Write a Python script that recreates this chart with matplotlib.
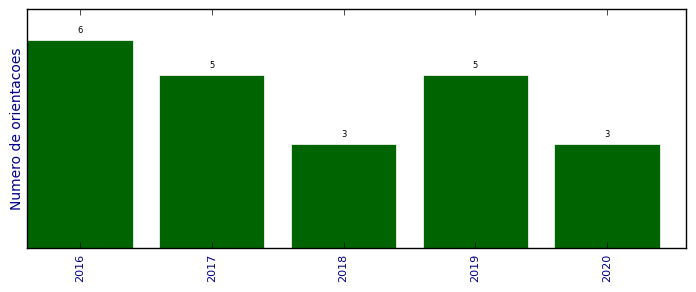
import matplotlib
matplotlib.use("Agg")
import matplotlib.pyplot as plt

anos = ["2016", "2017", "2018", "2019", "2020"]
orientacoes = [6, 5, 3, 5, 3]

plt.style.use("classic")
fig = plt.figure(figsize=(6.96, 2.92), dpi=100)
ax = fig.add_axes([0.039, 0.151, 0.947, 0.818])

x = range(len(anos))
bars = ax.bar(x, orientacoes, width=0.8, align="center", color="#006400",
              edgecolor="white", linewidth=0.5)

# rotulos em cima das barras
for bar, v in zip(bars, orientacoes):
    ax.text(bar.get_x() + bar.get_width() / 2, v + 0.15, str(v),
            ha="center", va="bottom", fontsize=6)

ax.set_xlim(-0.4, 4.6)
ax.set_ylim(0, max(orientacoes) * 1.15)
ax.set_xticks(list(x))
ax.set_xticklabels(anos, rotation=90, color="darkblue", fontsize=8)
ax.set_yticks([])
ax.set_ylabel("Numero de orientacoes", color="darkblue", fontsize=10, labelpad=2)
ax.tick_params(axis="x", direction="in", length=4)

fig.savefig("out.png", dpi=100)
